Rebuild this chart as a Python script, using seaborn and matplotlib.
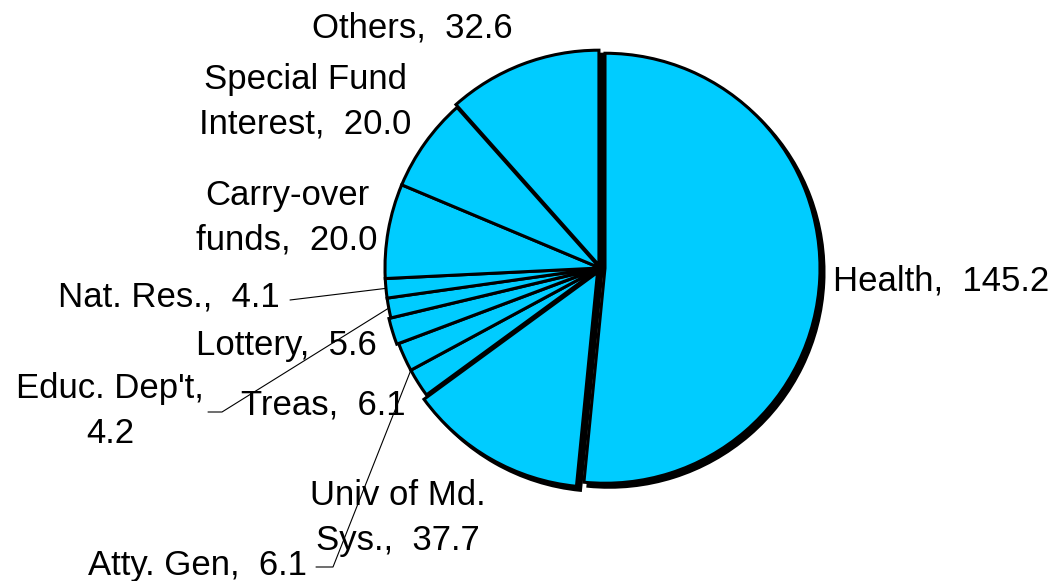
import matplotlib
matplotlib.use("Agg")
import matplotlib.pyplot as plt
import seaborn as sns
import numpy as np

# Data (clockwise from the top)
names = ["Health", "Univ of Md.\nSys.", "Atty. Gen", "Treas", "Lottery",
         "Educ. Dep't", "Nat. Res.", "Carry-over\nfunds", "Special Fund\nInterest", "Others"]
values = [145.2, 37.7, 6.1, 6.1, 5.6, 4.2, 4.1, 20.0, 20.0, 32.6]
labels = ["Health,  145.2", "Univ of Md.\nSys.,  37.7", "Atty. Gen,  6.1", "Treas,  6.1",
          "Lottery,  5.6", "Educ. Dep't,\n4.2", "Nat. Res.,  4.1", "Carry-over\nfunds,  20.0",
          "Special Fund\nInterest,  20.0", "Others,  32.6"]

sns.set_theme(style="white")
plt.rcParams["font.family"] = ["Liberation Sans", "DejaVu Sans"]

W, H = 1058, 581
fig = plt.figure(figsize=(W / 100, H / 100), dpi=100)
ax = fig.add_axes([0, 0, 1, 1])

# axes in pixel-like units, y up
cx, cy, R = 600, H - 268, 215
explode = [5, 5, 0, 0, 2, 0, 0, 0, 0, 3]
blue = "#00CCFF"

# shadow pie
ax.pie(values, startangle=90, counterclock=False, radius=R, center=(cx + 4, cy - 4),
       explode=explode, colors=["black"] * len(values),
       wedgeprops=dict(edgecolor="black", linewidth=2.2))
wedges, _ = ax.pie(values, startangle=90, counterclock=False, radius=R, center=(cx, cy),
                   explode=explode, colors=[blue] * len(values),
                   wedgeprops=dict(edgecolor="black", linewidth=2.2))

ax.set_xlim(0, W)
ax.set_ylim(0, H)
ax.set_aspect("auto")
ax.axis("off")

fs = 25
# label placement (pixel coordinates in image, y down)
pos = {
    "Health": (833, 281, "left"),
    "Univ of Md.\nSys.": (398, 518, "center"),
    "Atty. Gen": (197, 565, "center"),
    "Treas": (323, 405, "center"),
    "Lottery": (286, 345, "center"),
    "Educ. Dep't": (110, 411, "center"),
    "Nat. Res.": (169, 297, "center"),
    "Carry-over\nfunds": (287, 218, "center"),
    "Special Fund\nInterest": (305, 102, "center"),
    "Others": (412, 28, "center"),
}
for name, lab in zip(names, labels):
    px, py, ha = pos[name]
    ax.text(px, H - py, lab, fontsize=fs, ha=ha, va="center", color="black",
            linespacing=1.45)

def anchor(w, frac=0.5):
    th = np.deg2rad(w.theta1 + frac * (w.theta2 - w.theta1))
    x0, y0 = w.center
    return x0 + w.r * np.cos(th), y0 + w.r * np.sin(th)

# leader lines
leaders = {
    "Nat. Res.": ([(290, 300)], 0.5),
    "Educ. Dep't": ([(208, 412), (222, 412)], 0.5),
    "Atty. Gen": ([(316, 567), (333, 567)], 0.0),
}
for name, (pts, frac) in leaders.items():
    w = wedges[names.index(name)]
    ax_, ay_ = anchor(w, frac)
    xs = [p[0] for p in pts] + [ax_]
    ys = [H - p[1] for p in pts] + [ay_]
    ax.plot(xs, ys, color="black", lw=0.8)

fig.savefig("out.png", dpi=100)
